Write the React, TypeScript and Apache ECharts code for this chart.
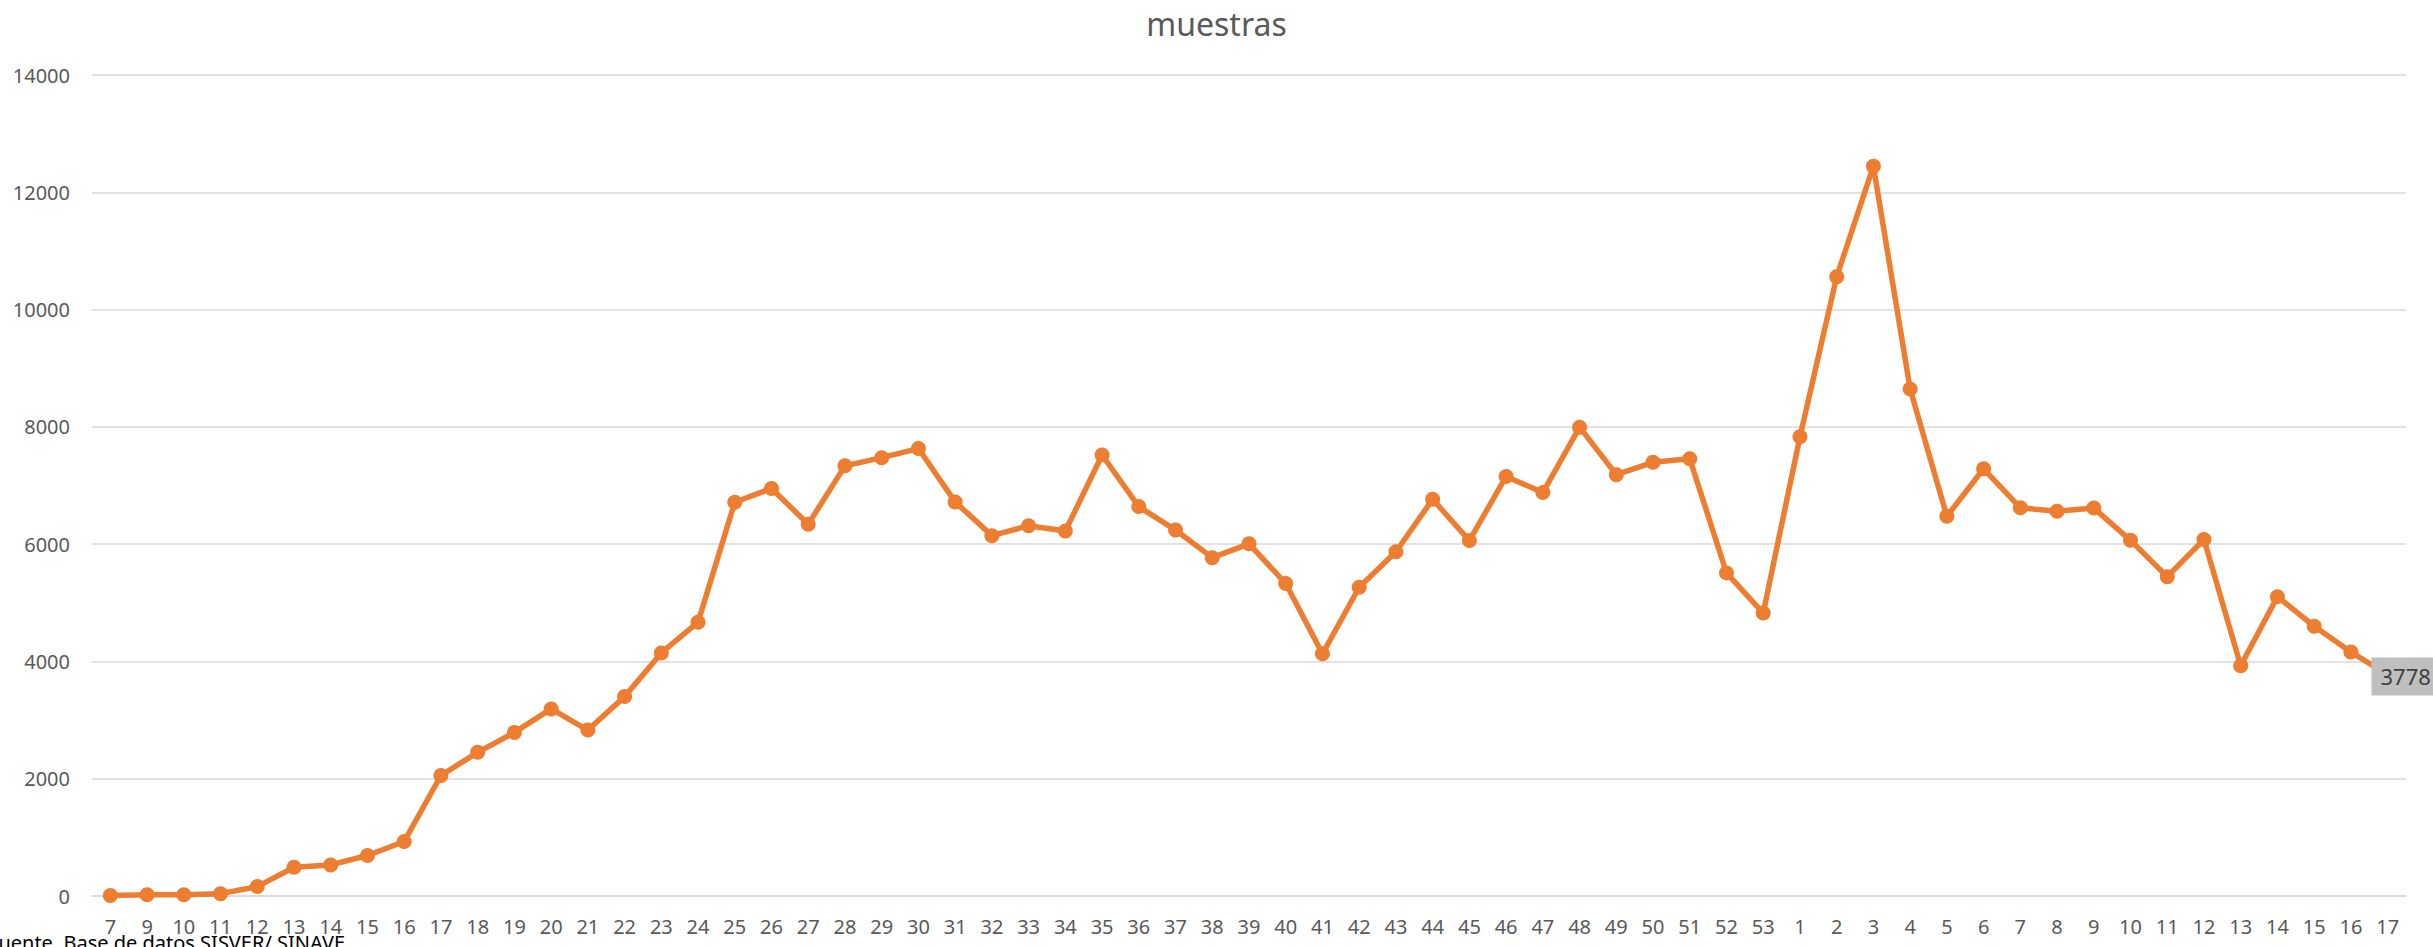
import React, { useEffect, useRef } from "react";
import * as echarts from "echarts";

const weeks: string[] = [
  "7", "9", "10", "11", "12", "13", "14", "15", "16", "17", "18", "19", "20", "21", "22", "23", "24", "25", "26", "27",
  "28", "29", "30", "31", "32", "33", "34", "35", "36", "37", "38", "39", "40", "41", "42", "43", "44", "45", "46", "47",
  "48", "49", "50", "51", "52", "53", "1", "2", "3", "4", "5", "6", "7", "8", "9", "10", "11", "12", "13", "14",
  "15", "16", "17",
];

const muestras: number[] = [
  10, 20, 20, 40, 160, 490, 530, 690, 930, 2055, 2450, 2790, 3190, 2830, 3400, 4145, 4670, 6715, 6950, 6340,
  7335, 7475, 7630, 6720, 6145, 6315, 6225, 7520, 6640, 6240, 5770, 6005, 5330, 4130, 5265, 5870, 6765, 6060, 7155, 6880,
  7995, 7185, 7395, 7455, 5510, 4825, 7830, 10560, 12445, 8645, 6475, 7285, 6620, 6560, 6615, 6065, 5445, 6080, 3925, 5105,
  4600, 4160, 3778,
];

const yTicks = { min: 0, max: 14000, interval: 2000 };
const titleText = "muestras";
const sourceText = "Fuente, Base de datos SISVER/ SINAVE";

const FONT = "'Noto Sans', 'Open Sans', sans-serif";

export default function App() {
  const ref = useRef<HTMLDivElement>(null);

  useEffect(() => {
    if (!ref.current) return;
    const chart = echarts.init(ref.current, undefined, { renderer: "svg" });
    const last = muestras.length - 1;
    chart.setOption({
      animation: false,
      backgroundColor: "#ffffff",
      title: {
        text: titleText,
        left: "center",
        top: 2,
        textStyle: { fontSize: 32, fontWeight: "normal", color: "#595959", fontFamily: FONT },
      },
      grid: { left: 92, right: 27, top: 75, bottom: 51, containLabel: false },
      xAxis: {
        type: "category",
        data: weeks,
        boundaryGap: true,
        axisLine: { show: true, lineStyle: { color: "#D9D9D9", width: 1.5 } },
        axisTick: { show: false },
        axisLabel: { interval: 0, fontSize: 20, color: "#595959", margin: 20, fontFamily: FONT },
        splitLine: { show: false },
      },
      yAxis: {
        type: "value",
        min: yTicks.min,
        max: yTicks.max,
        interval: yTicks.interval,
        axisLine: { show: false },
        axisTick: { show: false },
        axisLabel: {
          fontSize: 20,
          color: "#595959",
          margin: 22,
          fontFamily: FONT,
          formatter: (v: number) => String(v),
        },
        splitLine: { show: true, lineStyle: { color: "#D9D9D9", width: 1.5 } },
      },
      series: [
        {
          name: titleText,
          type: "line",
          data: muestras.map((v, i) =>
            i === last
              ? {
                  value: v,
                  label: {
                    show: true,
                    position: "inside",
                    offset: [18, 2],
                    backgroundColor: "#BFBFBF",
                    padding: [8, 9, 8, 9],
                    color: "#404040",
                    fontSize: 22,
                    fontFamily: FONT,
                    formatter: (p: any) => String(p.value),
                  },
                }
              : v
          ),
          symbol: "circle",
          symbolSize: 15,
          lineStyle: { color: "#ED7D31", width: 5.5 },
          itemStyle: { color: "#ED7D31" },
        },
      ],
      graphic: [
        {
          type: "text",
          x: -12,
          y: 932,
          style: {
            text: sourceText,
            fill: "#000000",
            fontSize: 20,
            fontFamily: FONT,
            verticalAlign: "top",
          },
        },
      ],
    });
    return () => chart.dispose();
  }, []);

  return (
    <div
      ref={ref}
      style={{ position: "fixed", left: 0, top: 0, width: 2433, height: 947 }}
    />
  );
}
